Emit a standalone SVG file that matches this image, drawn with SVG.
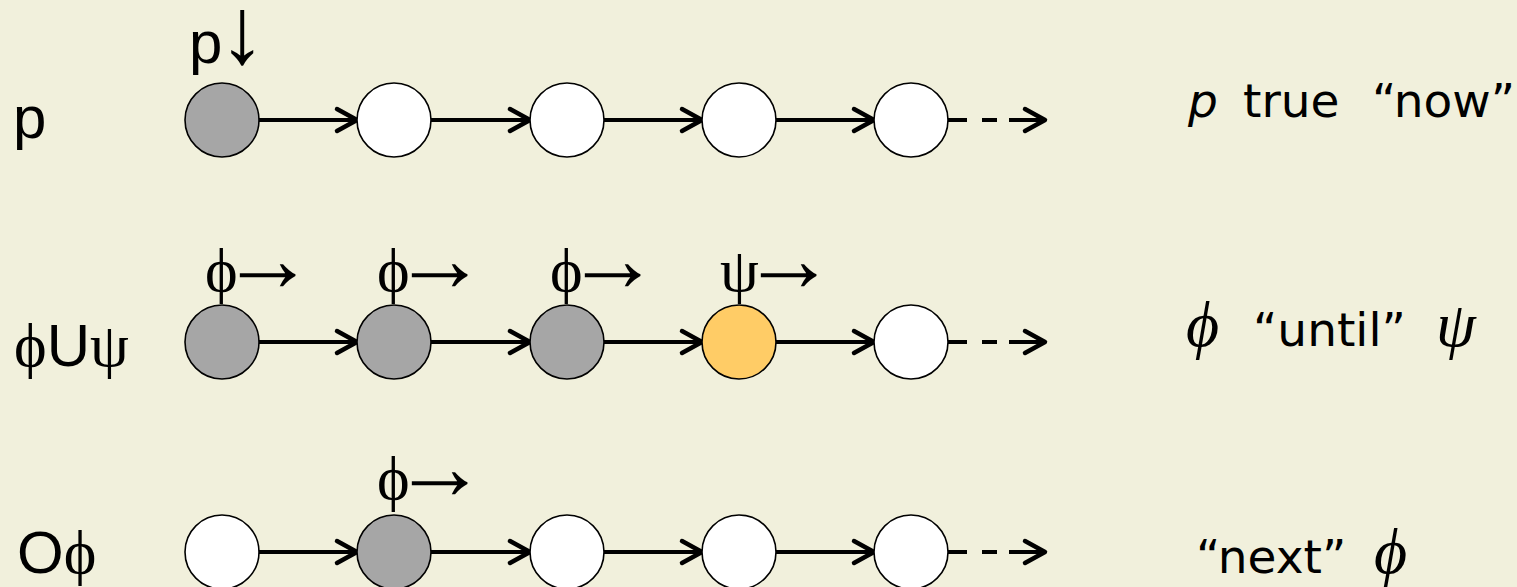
<svg xmlns="http://www.w3.org/2000/svg" width="1517" height="587" viewBox="0 0 1517 587">
<style>
.bg{fill:#F1F0DC}
.n{stroke:#000;stroke-width:1.6}
.g{fill:#A6A6A6}
.w{fill:#FFFFFF}
.o{fill:#FFCC66}
.e{fill:none;stroke:#000;stroke-width:4;marker-end:url(#ah)}
.d{stroke-dasharray:19 15 15 12 100}
.lab{font-family:"Liberation Sans",Arial,sans-serif;font-size:60px;fill:#000}
.gr{font-family:"Liberation Serif","DejaVu Serif",serif;font-size:62px;fill:#000}
.ar{font-family:"Liberation Serif","DejaVu Serif",serif;font-size:94px;fill:#000}
.rt{font-family:"DejaVu Sans","Liberation Sans",sans-serif;font-size:47px;fill:#000}
.mi{font-family:"Liberation Serif","DejaVu Serif",serif;font-style:italic;font-size:64px;fill:#000}
</style>
<defs>
<marker id="ah" markerUnits="userSpaceOnUse" viewBox="-24 -14 28 28" markerWidth="28" markerHeight="28" refX="0" refY="0" orient="auto" overflow="visible">
<path d="M-20,-11 L0,0 L-20,11" fill="none" stroke="#000" stroke-width="4.5" stroke-linecap="round" stroke-linejoin="round"/>
</marker>
</defs>
<rect class="bg" x="0" y="0" width="1517" height="587"/>

<g id="connectors">
<path class="e" d="M259,120 H357"/>
<path class="e" d="M431,120 H530"/>
<path class="e" d="M604,120 H702"/>
<path class="e" d="M776,120 H874"/>
<path class="e d" d="M948,120 H1045"/>
<path class="e" d="M259,342 H357"/>
<path class="e" d="M431,342 H530"/>
<path class="e" d="M604,342 H702"/>
<path class="e" d="M776,342 H874"/>
<path class="e d" d="M948,342 H1045"/>
<path class="e" d="M259,552 H357"/>
<path class="e" d="M431,552 H530"/>
<path class="e" d="M604,552 H702"/>
<path class="e" d="M776,552 H874"/>
<path class="e d" d="M948,552 H1045"/>
</g>

<g id="row1">
<g id="r1n1"><circle class="n g" cx="222" cy="120" r="37"/></g>
<g id="r1n2"><circle class="n w" cx="394" cy="120" r="37"/></g>
<g id="r1n3"><circle class="n w" cx="567" cy="120" r="37"/></g>
<g id="r1n4"><circle class="n w" cx="739" cy="120" r="37"/></g>
<g id="r1n5"><circle class="n w" cx="911" cy="120" r="37"/></g>
</g>
<g id="row2">
<g id="r2n1"><circle class="n g" cx="222" cy="342" r="37"/></g>
<g id="r2n2"><circle class="n g" cx="394" cy="342" r="37"/></g>
<g id="r2n3"><circle class="n g" cx="567" cy="342" r="37"/></g>
<g id="r2n4"><circle class="n o" cx="739" cy="342" r="37"/></g>
<g id="r2n5"><circle class="n w" cx="911" cy="342" r="37"/></g>
</g>
<g id="row3">
<g id="r3n1"><circle class="n w" cx="222" cy="552" r="37"/></g>
<g id="r3n2"><circle class="n g" cx="394" cy="552" r="37"/></g>
<g id="r3n3"><circle class="n w" cx="567" cy="552" r="37"/></g>
<g id="r3n4"><circle class="n w" cx="739" cy="552" r="37"/></g>
<g id="r3n5"><circle class="n w" cx="911" cy="552" r="37"/></g>
</g>

<g id="labels-left">
<text class="lab" x="13" y="138">p</text>
<text x="14" y="366"><tspan class="gr">ϕ</tspan><tspan class="lab">U</tspan><tspan class="gr">ψ</tspan></text>
<text x="17" y="573"><tspan class="lab">O</tspan><tspan class="gr">ϕ</tspan></text>
</g>

<g id="labels-top">
<text x="189" y="63"><tspan class="lab">p</tspan><tspan class="ar" dx="-4">↓</tspan></text>
<text x="205" y="291"><tspan class="gr">ϕ</tspan><tspan class="ar" dx="-17">→</tspan></text>
<text x="377" y="291"><tspan class="gr">ϕ</tspan><tspan class="ar" dx="-17">→</tspan></text>
<text x="550" y="291"><tspan class="gr">ϕ</tspan><tspan class="ar" dx="-17">→</tspan></text>
<text x="720" y="291"><tspan class="gr">ψ</tspan><tspan class="ar" dx="-17">→</tspan></text>
<text x="377" y="499"><tspan class="gr">ϕ</tspan><tspan class="ar" dx="-17">→</tspan></text>
</g>

<g id="labels-right">
<text class="rt" y="117"><tspan x="1188" font-style="italic">p</tspan><tspan x="1243">true</tspan><tspan x="1372">“now”</tspan></text>
<text y="346"><tspan class="mi" x="1186">ϕ</tspan><tspan class="rt" x="1253">“until”</tspan><tspan class="mi" x="1436">ψ</tspan></text>
<text y="573"><tspan class="rt" x="1196">“next”</tspan><tspan class="mi" x="1374">ϕ</tspan></text>
</g>
</svg>
